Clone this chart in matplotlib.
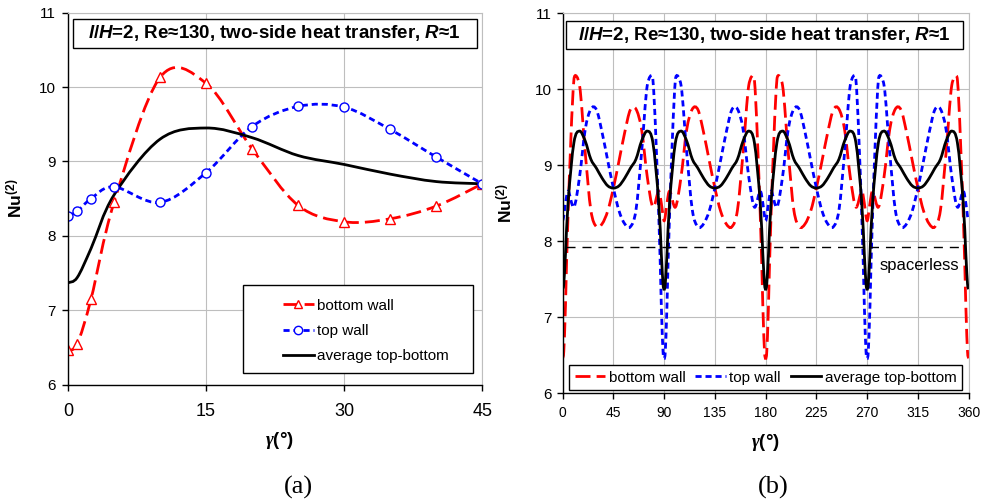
import numpy as np
import matplotlib
matplotlib.use('Agg')
import matplotlib.pyplot as plt
from matplotlib.path import Path
from matplotlib.patches import PathPatch, Rectangle
from matplotlib.lines import Line2D

plt.rcParams['font.family'] = 'Liberation Sans'
plt.rcParams['mathtext.fontset'] = 'custom'
plt.rcParams['mathtext.rm'] = 'Liberation Sans:bold'
plt.rcParams['mathtext.it'] = 'Liberation Sans:bold:italic'
plt.rcParams['mathtext.bf'] = 'Liberation Sans:bold'
plt.rcParams['mathtext.cal'] = 'Liberation Serif:bold:italic'

# spacer angle (deg) and Nu values
gamma = [0, 1, 2.5, 5, 10, 15, 20, 25, 30, 35, 40, 45]
nu_bottom = [6.46, 6.55, 7.15, 8.45, 10.13, 10.05, 9.17, 8.41, 8.19, 8.23, 8.40, 8.70]
nu_top = [8.27, 8.33, 8.50, 8.66, 8.45, 8.85, 9.47, 9.74, 9.73, 9.43, 9.06, 8.70]
nu_avg = [7.37, 7.44, 7.83, 8.55, 9.30, 9.45, 9.32, 9.08, 8.96, 8.83, 8.73, 8.70]
nu_spacerless = 7.93

title = r'$l/H$=2, Re≈130, two-side heat transfer, $R$≈1'
xlab = r'$\mathcal{\gamma}$(°)'

RED_LS = (0, (5.4, 2.2))
BLUE_LS = (0, (2.2, 1.4))
LW = 2.0
GRID = '#BEBEBE'


def smooth_path(ax, x, y):
    # Excel-like smoothed line: Bezier through the points, built in pixel space,
    # control arms kept no longer than the segment they belong to
    p = ax.transData.transform(np.column_stack([x, y]).astype(float))
    ext = np.vstack([p[0], p, p[-1]])
    verts = [p[0]]
    codes = [Path.MOVETO]
    for i in range(len(p) - 1):
        p0, p1, p2, p3 = ext[i], ext[i + 1], ext[i + 2], ext[i + 3]
        d = np.hypot(*(p2 - p1))
        arms = []
        for t in ((p2 - p0) / 6, (p3 - p1) / 6):
            n = np.hypot(*t)
            if n > d > 0:
                t = t * d / n
            arms.append(t)
        verts += [p1 + arms[0], p2 - arms[1], p2]
        codes += [Path.CURVE4] * 3
    return Path(ax.transData.inverted().transform(np.array(verts)), codes)


def unfold(b, t):
    # panel (b) is panel (a) mirrored over 0-360: 45 deg segments,
    # bottom/top swapped where the spacer faces the other wall
    g = np.array(gamma, float)
    b, t = np.array(b, float), np.array(t, float)
    xs, bs, ts = [], [], []
    for k in range(8):
        if k % 2 == 0:
            x, bb, tt = 45 * k + g, b, t
        else:
            x, bb, tt = 45 * (k + 1) - g[::-1], b[::-1], t[::-1]
        if k in (1, 2, 5, 6):
            bb, tt = tt, bb
        if k > 0:
            x, bb, tt = x[1:], bb[1:], tt[1:]
        xs.append(x); bs.append(bb); ts.append(tt)
    return np.concatenate(xs), np.concatenate(bs), np.concatenate(ts)


def style_axes(ax):
    ax.set_facecolor('white')
    ax.grid(True, color=GRID, lw=0.8)
    ax.set_axisbelow(True)
    for s in ('top', 'right'):
        ax.spines[s].set_color(GRID)
        ax.spines[s].set_linewidth(0.8)
    for s in ('left', 'bottom'):
        ax.spines[s].set_color('black')
        ax.spines[s].set_linewidth(1.0)
    ax.tick_params(direction='out', length=4, width=1, top=False, right=False)
    ax.set_ylim(6, 11)
    ax.set_yticks(range(6, 12))


fig = plt.figure(figsize=(9.84, 5.03), dpi=100)
ax1 = fig.add_axes([0.0691, 0.2352, 0.4210, 0.7396])
ax2 = fig.add_axes([0.5718, 0.2181, 0.4126, 0.7555])

# ---- panel (a)
style_axes(ax1)
ax1.set_xlim(0, 45)
ax1.set_xticks([0, 15, 30, 45])
ax1.tick_params(axis='x', labelsize=13, pad=9)
ax1.tick_params(axis='y', labelsize=11, pad=5)

ax1.add_patch(PathPatch(smooth_path(ax1, gamma, nu_bottom), fill=False, ec='red', lw=LW,
                        ls=RED_LS, capstyle='butt'))
ax1.add_patch(PathPatch(smooth_path(ax1, gamma, nu_top), fill=False, ec='blue', lw=LW,
                        ls=BLUE_LS, capstyle='butt'))
ax1.add_patch(PathPatch(smooth_path(ax1, gamma, nu_avg), fill=False, ec='black', lw=LW))
ax1.plot(gamma, nu_bottom, ls='none', marker='^', ms=7, mfc='white', mec='red', mew=1)
ax1.plot(gamma, nu_top, ls='none', marker='o', ms=6.5, mfc='white', mec='blue', mew=1)

h1 = [Line2D([], [], color='red', lw=LW, ls=RED_LS, marker='^', ms=6, mfc='white', mec='red', mew=1),
      Line2D([], [], color='blue', lw=LW, ls=BLUE_LS, marker='o', ms=6, mfc='white', mec='blue', mew=1),
      Line2D([], [], color='black', lw=LW)]
leg1 = ax1.legend(h1, ['bottom wall', 'top wall', 'average top-bottom'], loc='center left',
                  bbox_to_anchor=(0.4996, 0.1444), frameon=False, fontsize=11, numpoints=1,
                  borderpad=0, handlelength=2.07, handletextpad=0.2, labelspacing=0.74)
ax1.add_patch(Rectangle((0.423, 0.032), 0.555, 0.236, transform=ax1.transAxes,
                        fill=True, fc='white', ec='black', lw=1, zorder=4))
leg1.set_zorder(5)

ax1.add_patch(Rectangle((0.0113, 0.906), 0.9752, 0.078, transform=ax1.transAxes,
                        fc='white', ec='black', lw=1, zorder=4))
ax1.text(0.499, 0.945, title, transform=ax1.transAxes, ha='center', va='center',
         fontsize=13.5, fontweight='bold', zorder=5)
ax1.set_xlabel(xlab, fontsize=13.5, fontweight='bold')
ax1.xaxis.set_label_coords(0.51, -0.122)
ax1.set_ylabel(r'Nu$^{(2)}$', fontsize=12.5, fontweight='bold')
ax1.yaxis.set_label_coords(-0.106, 0.5)

# ---- panel (b)
style_axes(ax2)
ax2.set_xlim(0, 360)
ax2.set_xticks(range(0, 361, 45))
ax2.tick_params(axis='x', labelsize=10, pad=5.5)
ax2.tick_params(axis='y', labelsize=11, pad=4)

gx, gb, gt = unfold(nu_bottom, nu_top)
_, ga, _ = unfold(nu_avg, nu_avg)
ax2.add_patch(PathPatch(smooth_path(ax2, gx, gb), fill=False, ec='red', lw=LW,
                        ls=RED_LS, capstyle='butt'))
ax2.add_patch(PathPatch(smooth_path(ax2, gx, gt), fill=False, ec='blue', lw=LW,
                        ls=BLUE_LS, capstyle='butt'))
ax2.add_patch(PathPatch(smooth_path(ax2, gx, ga), fill=False, ec='black', lw=LW))
ax2.axhline(nu_spacerless, xmin=0.008, xmax=0.985, color='black', lw=1.0, ls=(0, (6.5, 5)))
ax2.text(0.7815, 0.3376, 'spacerless', transform=ax2.transAxes, ha='left', va='center',
         fontsize=12)

h2 = [Line2D([], [], color='red', lw=LW, ls=RED_LS),
      Line2D([], [], color='blue', lw=LW, ls=BLUE_LS),
      Line2D([], [], color='black', lw=LW)]
leg2 = ax2.legend(h2, ['bottom wall', 'top wall', 'average top-bottom'], loc='lower left',
                  bbox_to_anchor=(0.0163, 0.0087), borderaxespad=0, ncol=3, fontsize=11,
                  fancybox=False, edgecolor='black', framealpha=1, borderpad=0.35,
                  handlelength=2.0, handletextpad=0.23, columnspacing=0.65)
leg2.get_frame().set_linewidth(1)

ax2.add_patch(Rectangle((0.008, 0.906), 0.978, 0.074, transform=ax2.transAxes,
                        fc='white', ec='black', lw=1, zorder=4))
ax2.text(0.497, 0.943, title, transform=ax2.transAxes, ha='center', va='center',
         fontsize=13.5, fontweight='bold', zorder=5)
ax2.set_xlabel(xlab, fontsize=13.5, fontweight='bold')
ax2.xaxis.set_label_coords(0.5, -0.101)
ax2.set_ylabel(r'Nu$^{(2)}$', fontsize=12.5, fontweight='bold')
ax2.yaxis.set_label_coords(-0.12, 0.5)

fig.text(298 / 984, 1 - 487 / 503, '(a)', ha='center', va='center',
         family='Liberation Serif', fontsize=19)
fig.text(773 / 984, 1 - 487 / 503, '(b)', ha='center', va='center',
         family='Liberation Serif', fontsize=19)

fig.savefig('out.png', dpi=100, facecolor='white')
